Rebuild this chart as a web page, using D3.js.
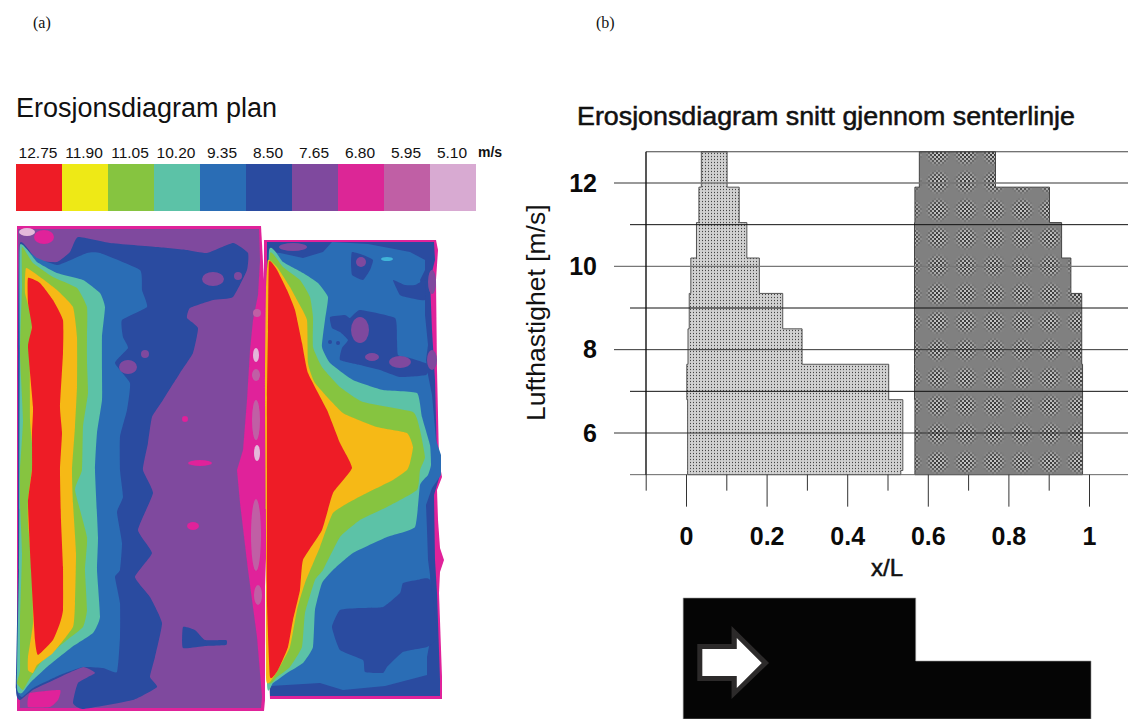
<!DOCTYPE html>
<html>
<head>
<meta charset="utf-8">
<script src="https://d3js.org/d3.v7.min.js"></script>
<style>
  html, body { margin: 0; padding: 0; background: #fff; }
  svg { display: block; }
  text { font-family: "Liberation Sans", Arial, sans-serif; fill: #111; }
  .panel-tag { font-family: "Liberation Serif", serif; font-size: 16px; }
  .axis .domain { display: none; }
  .axis text { font-family: "Liberation Sans", Arial, sans-serif; font-weight: bold; font-size: 25px; fill: #0a0a0a; }
</style>
</head>
<body>
<div id="chart-area"></div>
<script>
// ---- Legend
var legendValues = ["12.75", "11.90", "11.05", "10.20", "9.35", "8.50", "7.65", "6.80", "5.95", "5.10"];
var legendColors = ["#ee1c25", "#eee914", "#86c440", "#5bc2a7", "#2a6db5", "#2a4ba0", "#7f4a9e", "#dc2796", "#c05fa5", "#d8aad2"];

// ---- Plan contours, traced in plan units (outermost first)
var red = "#ee1c25", orange = "#f6b912", green = "#86c440", teal = "#5bc2a7", blue = "#2a6db5",
    navy = "#2a4ba0", purple = "#7f4a9e", magenta = "#e0209a", mauve = "#c05fa5", pale = "#e4b8da", cyan = "#3fb4d8";

var leftEdge = [[17,6],[261,6],[264,60],[265,300],[265,480],[264,491],[17,491]];
var leftPurple = [[18,9],[259,9],[260,40],[258,75],[253,100],[250,130],[247,180],[243,230],[237,250],[240,283],[248,350],[257,417],[262,477],[261,488],[20,488],[18,300]];
var leftNavy = [[20,23],[37,40],[57,42],[70,32],[78,17],[110,23],[157,27],[187,30],[207,33],[233,23],[248,33],[247,50],[233,77],[213,80],[190,88],[187,98],[198,108],[193,133],[180,153],[163,180],[152,197],[148,223],[143,250],[153,273],[138,310],[152,333],[135,357],[150,377],[162,403],[155,437],[150,457],[157,467],[133,480],[83,489],[73,483],[78,463],[95,453],[83,447],[60,457],[33,470],[20,480],[16,470],[18,350],[18,130]];
var leftBlue = [[20,28],[37,38],[58,45],[87,33],[100,33],[140,50],[142,70],[147,87],[122,100],[123,117],[128,128],[115,143],[130,163],[127,190],[120,217],[120,250],[123,277],[117,292],[122,323],[120,350],[115,357],[120,383],[120,417],[117,452],[103,448],[83,447],[60,455],[33,468],[22,477],[17,467],[19,350],[19,130]];
var leftTeal = [[20,25],[37,42],[57,53],[83,60],[100,73],[105,87],[102,117],[102,150],[102,180],[97,213],[95,250],[98,317],[97,350],[100,397],[93,413],[72,427],[47,447],[30,463],[22,473],[17,467],[19,350],[20,130]];
var leftGreen = [[22,27],[33,43],[53,57],[77,68],[87,87],[87,117],[87,143],[88,173],[83,207],[82,250],[75,270],[87,317],[85,350],[87,390],[83,407],[67,420],[43,440],[30,458],[23,470],[17,463],[20,450],[20,400],[22,333],[20,283],[20,250],[23,200],[20,133],[22,67]];
var leftOrange = [[26,48],[40,57],[57,70],[73,87],[77,117],[77,167],[75,207],[72,250],[73,283],[76,333],[75,383],[73,407],[53,433],[37,445],[33,453],[28,450],[28,437],[33,403],[32,350],[28,303],[28,280],[32,250],[33,233],[30,200],[30,133],[32,100],[25,73]];
var leftRed = [[28,58],[40,63],[53,80],[63,100],[63,133],[60,187],[62,213],[60,250],[61,300],[63,347],[63,390],[60,403],[53,420],[38,435],[35,420],[31,350],[28,283],[32,250],[32,213],[33,187],[28,127],[32,107],[28,83]];
var leftNavyPatch = [[183,407],[195,410],[205,420],[226,420],[226,425],[205,426],[183,428]];
var leftMagentaPatch = [[30,473],[60,470],[58,480],[50,487],[28,487]];
// cx, cy, rx, ry, colour
var leftSpots = [
  [44,17,10,7,magenta],[27,12,8,4,pale],[128,147,9,7,purple],[145,134,4,4,purple],[213,59,11,7,purple],[238,56,4,4,purple],
  [193,306,6,4,magenta],[200,243,12,3,magenta],[185,199,3,3,magenta],[257,93,4,4,mauve],[256,135,3,7,pale],[256,155,4,6,mauve],
  [256,200,4,20,mauve],[257,233,3,8,pale],[256,315,5,36,mauve],[258,375,4,10,mauve]
];

var rightEdge = [[4,10],[176,10],[178,20],[176,50],[177,140],[179,230],[182,247],[177,260],[178,290],[180,318],[184,330],[180,342],[179,363],[182,447],[182,469],[10,469],[4,300]];
var rightNavy = [[7,12],[174,12],[175,30],[170,50],[172,100],[175,150],[177,230],[180,245],[174,265],[175,330],[177,363],[180,450],[180,466],[10,466],[7,300]];
var rightBlue = [[10,22],[20,23],[43,28],[63,22],[72,12],[108,14],[150,22],[165,30],[165,40],[160,50],[165,70],[165,85],[168,115],[166,130],[168,145],[172,165],[176,210],[181,225],[181,245],[172,258],[166,275],[167,300],[168,330],[170,345],[172,400],[167,427],[167,445],[125,456],[83,460],[60,453],[10,456],[8,300]];
var rightTeal = [[9,21],[23,32],[43,43],[58,53],[68,67],[65,90],[62,117],[70,133],[93,150],[123,160],[157,163],[162,187],[170,215],[171,235],[168,245],[160,255],[155,297],[127,307],[93,323],[73,340],[62,353],[55,380],[53,417],[43,433],[27,443],[13,453],[7,453],[8,200]];
var rightGreen = [[10,23],[23,37],[40,50],[50,67],[53,87],[53,117],[62,137],[80,157],[103,172],[153,182],[160,200],[165,227],[160,240],[157,260],[127,277],[100,290],[80,307],[63,340],[55,350],[45,383],[42,417],[30,437],[17,447],[8,450],[6,300],[7,100]];
var rightOrange = [[8,30],[17,37],[30,57],[37,70],[47,90],[48,133],[55,153],[83,183],[117,197],[147,203],[153,217],[150,233],[147,240],[133,250],[97,268],[73,283],[60,317],[45,353],[37,380],[30,417],[18,440],[10,452],[6,447],[6,300],[5,160],[6,60]];
var rightRed = [[9,32],[17,40],[27,60],[35,80],[42,113],[48,143],[67,180],[80,213],[92,238],[73,263],[62,300],[43,330],[40,360],[33,390],[28,417],[18,440],[10,447],[7,373],[7,307],[7,240],[7,167],[8,100]];
var rightIslands = [
  [[92,22],[103,25],[113,30],[110,40],[103,50],[92,45],[91,32]],
  [[133,50],[145,55],[155,55],[165,50],[165,70],[150,68],[140,65]],
  [[70,87],[85,85],[90,88],[100,80],[135,88],[137,110],[138,125],[150,128],[170,135],[166,145],[140,147],[120,140],[100,135],[80,130],[82,118],[88,110],[80,102],[72,98]],
  [[143,353],[157,350],[170,350],[177,407],[167,417],[143,422],[127,437],[123,443],[105,442],[103,430],[80,420],[72,397],[80,380],[100,378],[123,377],[140,363]]
];
var rightSpots = [
  [33,17,14,4,purple],[101,32,5,5,purple],[100,100,9,13,purple],[112,127,7,4,purple],[140,132,11,6,purple],[172,52,4,12,purple],[172,130,5,10,purple],
  [127,29,6,2,cyan],[70,112,2,2,navy],[78,113,2,2,navy]
];

// ---- Erosion diagram
var xTicksMajor = [0, 0.2, 0.4, 0.6, 0.8, 1];
var xTicksMinor = [-0.1, 0.1, 0.3, 0.5, 0.7, 0.9];
var yTicksMajor = [12, 10, 8, 6];
var yTicksMinor = [11, 9, 7, 5];
var speedLevels = [12.75, 11.9, 11.05, 10.2, 9.35, 8.5, 7.65, 6.8, 5.1, 5];
var lightLeft   = [0.038, 0.032, 0.026, 0.012, 0.008, 0.005, 0.002, 0.004, 0.004];
var lightRight  = [0.102, 0.132, 0.151, 0.182, 0.24, 0.288, 0.503, 0.538, 0.533];
var darkLeft    = [0.579, 0.568, 0.567, 0.567, 0.567, 0.567, 0.567, 0.568, 0.568];
var darkRight   = [0.768, 0.902, 0.932, 0.955, 0.982, 0.982, 0.984, 0.984, 0.984];

// Duct sketch, in x/L and sketch rows
var ductX = [-0.007, 0.57, 0.57, 1.005, 1.005, -0.007];
var ductY = [0, 0, 63, 63, 121, 121];
var arrowOuter = [[0.028,46],[0.113,46],[0.113,28],[0.206,65],[0.113,101],[0.113,83],[0.028,83]];
var arrowInner = [[0.0405,51],[0.126,51],[0.126,40],[0.188,65],[0.126,90],[0.126,78],[0.0405,78]];

var svg = d3.select("#chart-area")
    .append("svg")
    .attr("width", 1128)
    .attr("height", 719);

var defs = svg.append("defs");
defs.append("filter").attr("id", "soft")
    .attr("x", "-2%").attr("y", "-2%").attr("width", "104%").attr("height", "104%")
    .append("feGaussianBlur").attr("stdDeviation", 0.7);

// Light hatch: fine dots on pale grey stripes
var lightHatch = defs.append("pattern").attr("id", "lightHatch")
    .attr("patternUnits", "userSpaceOnUse").attr("width", 3).attr("height", 3);
lightHatch.append("rect").attr("width", 3).attr("height", 3).attr("fill", "#c2c2c2");
lightHatch.append("rect").attr("x", 1.5).attr("width", 1).attr("height", 3).attr("fill", "#e0e0e0");
lightHatch.append("rect").attr("width", 1).attr("height", 1).attr("fill", "#444");

// Dark hatch: 2px checker fading in and out
var darkHatch = defs.append("pattern").attr("id", "darkHatch")
    .attr("patternUnits", "userSpaceOnUse").attr("width", 28).attr("height", 28);
darkHatch.append("rect").attr("width", 28).attr("height", 28).attr("fill", "#808080");
d3.range(14).forEach(function(i){
    d3.range(14).forEach(function(j){
        var r = Math.hypot(i - 6.5, j - 6.5) / 6;
        var a = Math.max(0, 1 - r * r) * 0.55;
        var v = (i + j) % 2 ? 128 + 127 * a : 128 - 127 * a;
        darkHatch.append("rect")
            .attr("x", i * 2).attr("y", j * 2).attr("width", 2).attr("height", 2)
            .attr("fill", d3.rgb(v, v, v));
    });
});

// Panel tags
svg.append("text").attr("class", "panel-tag").attr("x", 33).attr("y", 28).text("(a)");
svg.append("text").attr("class", "panel-tag").attr("x", 596).attr("y", 28).text("(b)");

// ---- Panel (a)
svg.append("text").attr("x", 16).attr("y", 117).attr("font-size", "27px").text("Erosjonsdiagram plan");

var legendX = d3.scaleBand().domain(legendValues).range([16, 476]);
svg.selectAll(".swatch")
    .data(legendValues)
    .enter().append("rect")
    .attr("class", "swatch")
    .attr("x", function(d){ return legendX(d); })
    .attr("y", 164)
    .attr("width", legendX.bandwidth())
    .attr("height", 47)
    .attr("fill", function(d, i){ return legendColors[i]; })
    .attr("filter", "url(#soft)");
svg.selectAll(".swatch-label")
    .data(legendValues)
    .enter().append("text")
    .attr("class", "swatch-label")
    .attr("x", function(d){ return legendX(d) + legendX.bandwidth() / 2 - 1; })
    .attr("y", 158)
    .attr("text-anchor", "middle")
    .attr("font-size", "15.5px")
    .text(function(d){ return d; });
svg.append("text").attr("x", 478).attr("y", 157).attr("font-size", "14px").attr("font-weight", "bold").text("m/s");

function drawPlan(xScale, yScale, shapes) {
    var g = svg.append("g").attr("filter", "url(#soft)");
    var smooth = d3.line()
        .x(function(d){ return xScale(d[0]); })
        .y(function(d){ return yScale(d[1]); })
        .curve(d3.curveCardinalClosed.tension(0.6));
    var sharp = d3.line()
        .x(function(d){ return xScale(d[0]); })
        .y(function(d){ return yScale(d[1]); })
        .curve(d3.curveLinearClosed);
    g.selectAll("path")
        .data(shapes)
        .enter().append("path")
        .attr("d", function(d){ return d.sharp ? sharp(d.points) : smooth(d.points); })
        .attr("fill", function(d){ return d.color; });
    return g;
}

function drawSpots(g, xScale, yScale, spots) {
    g.selectAll("ellipse")
        .data(spots)
        .enter().append("ellipse")
        .attr("cx", function(d){ return xScale(d[0]); })
        .attr("cy", function(d){ return yScale(d[1]); })
        .attr("rx", function(d){ return d[2]; })
        .attr("ry", function(d){ return d[3]; })
        .attr("fill", function(d){ return d[4]; });
}

var leftX = d3.scaleLinear().domain([0, 270]).range([0, 270]);
var leftY = d3.scaleLinear().domain([0, 500]).range([220, 720]);
var rightX = d3.scaleLinear().domain([0, 200]).range([260, 460]);
var rightY = d3.scaleLinear().domain([0, 490]).range([230, 720]);

// Right block goes first, the left one overlaps it
var rightShapes = [
    {points: rightEdge, color: magenta, sharp: true},
    {points: rightNavy, color: navy, sharp: true},
    {points: rightBlue, color: blue, sharp: true}
].concat(rightIslands.map(function(p){ return {points: p, color: navy}; }));
var gRight = drawPlan(rightX, rightY, rightShapes);
drawSpots(gRight, rightX, rightY, rightSpots);
drawPlan(rightX, rightY, [
    {points: rightTeal, color: teal},
    {points: rightGreen, color: green},
    {points: rightOrange, color: orange},
    {points: rightRed, color: red}
]);

var gLeft = drawPlan(leftX, leftY, [
    {points: leftEdge, color: magenta, sharp: true},
    {points: leftPurple, color: purple, sharp: true},
    {points: leftNavy, color: navy},
    {points: leftBlue, color: blue},
    {points: leftTeal, color: teal},
    {points: leftGreen, color: green},
    {points: leftOrange, color: orange},
    {points: leftRed, color: red},
    {points: leftNavyPatch, color: navy},
    {points: leftMagentaPatch, color: magenta}
]);
drawSpots(gLeft, leftX, leftY, leftSpots);

// ---- Panel (b)
var x = d3.scaleLinear().domain([0, 1]).range([686, 1089]);
var y = d3.scaleLinear().domain([12, 6]).range([183, 433]);

svg.append("text")
    .attr("x", 577).attr("y", 125)
    .attr("font-size", "25px")
    .attr("textLength", 498)
    .attr("lengthAdjust", "spacingAndGlyphs")
    .attr("stroke", "#111").attr("stroke-width", 0.5)
    .text("Erosjonsdiagram snitt gjennom senterlinje");

svg.append("text")
    .attr("transform", "translate(545,421) rotate(-90)")
    .attr("font-size", "26.5px")
    .text("Lufthastighet [m/s]");

function stepOutline(lefts, rights) {
    var pts = [];
    lefts.forEach(function(v, i){
        pts.push([x(v), y(speedLevels[i])], [x(v), y(speedLevels[i + 1])]);
    });
    rights.slice().reverse().forEach(function(v, i){
        var k = rights.length - 1 - i;
        pts.push([x(v), y(speedLevels[k + 1])], [x(v), y(speedLevels[k])]);
    });
    return d3.line()(pts) + "Z";
}

svg.append("path").attr("d", stepOutline(lightLeft, lightRight))
    .attr("fill", "url(#lightHatch)").attr("stroke", "#555").attr("stroke-width", 1);
svg.append("path").attr("d", stepOutline(darkLeft, darkRight))
    .attr("fill", "url(#darkHatch)").attr("stroke", "#444").attr("stroke-width", 1);

// Horizontal rules
svg.selectAll(".rule-major")
    .data(yTicksMajor)
    .enter().append("line")
    .attr("class", "rule-major")
    .attr("x1", 614).attr("x2", 1128)
    .attr("y1", function(d){ return y(d); }).attr("y2", function(d){ return y(d); })
    .attr("stroke", function(d){ return d >= 10 ? "#777" : "#333"; })
    .attr("stroke-width", function(d){ return d >= 10 ? 1.4 : 1; });
svg.selectAll(".rule-minor")
    .data(yTicksMinor)
    .enter().append("line")
    .attr("class", "rule-minor")
    .attr("x1", 630).attr("x2", 1128)
    .attr("y1", function(d){ return y(d); }).attr("y2", function(d){ return y(d); })
    .attr("stroke", function(d){ return d == 5 ? "#666" : "#111"; })
    .attr("stroke-width", 1);
svg.append("line").attr("x1", 646).attr("x2", 1128)
    .attr("y1", y(12.75)).attr("y2", y(12.75))
    .attr("stroke", "#444").attr("stroke-width", 1.2);
svg.append("line").attr("x1", 646).attr("x2", 646)
    .attr("y1", y(12.75)).attr("y2", y(5))
    .attr("stroke", "#111").attr("stroke-width", 1.4);

// Axes
svg.append("g").attr("class", "axis")
    .attr("transform", "translate(0," + y(5) + ")")
    .call(d3.axisBottom(x).tickValues(xTicksMajor).tickSize(32).tickPadding(21).tickFormat(function(d){ return d; }));
svg.append("g").attr("class", "axis")
    .attr("transform", "translate(0," + y(5) + ")")
    .call(d3.axisBottom(x).tickValues(xTicksMinor).tickSize(16).tickFormat(""));
svg.selectAll(".axis .tick line").attr("stroke", "#333");

svg.append("g").attr("class", "axis")
    .attr("transform", "translate(614,0)")
    .call(d3.axisLeft(y).tickValues(yTicksMajor).tickSize(0).tickPadding(17).tickFormat(function(d){ return d; }));

svg.append("text")
    .attr("x", 887).attr("y", 576)
    .attr("text-anchor", "middle")
    .attr("font-size", "24px")
    .attr("stroke", "#111").attr("stroke-width", 0.5)
    .text("x/L");

// Duct sketch with inlet arrow
var ductRow = d3.scaleLinear().domain([0, 121]).range([598, 719]);
var ductLine = d3.line()
    .x(function(d){ return x(d[0]); })
    .y(function(d){ return ductRow(d[1]); });
svg.append("path")
    .attr("d", ductLine(ductX.map(function(v, i){ return [v, ductY[i]]; })) + "Z")
    .attr("fill", "#050505").attr("stroke", "#999").attr("stroke-width", 0.6);
svg.append("path").attr("d", ductLine(arrowOuter) + "Z").attr("fill", "#2c2a2a");
svg.append("path").attr("d", ductLine(arrowInner) + "Z").attr("fill", "#fff");
</script>
</body>
</html>
